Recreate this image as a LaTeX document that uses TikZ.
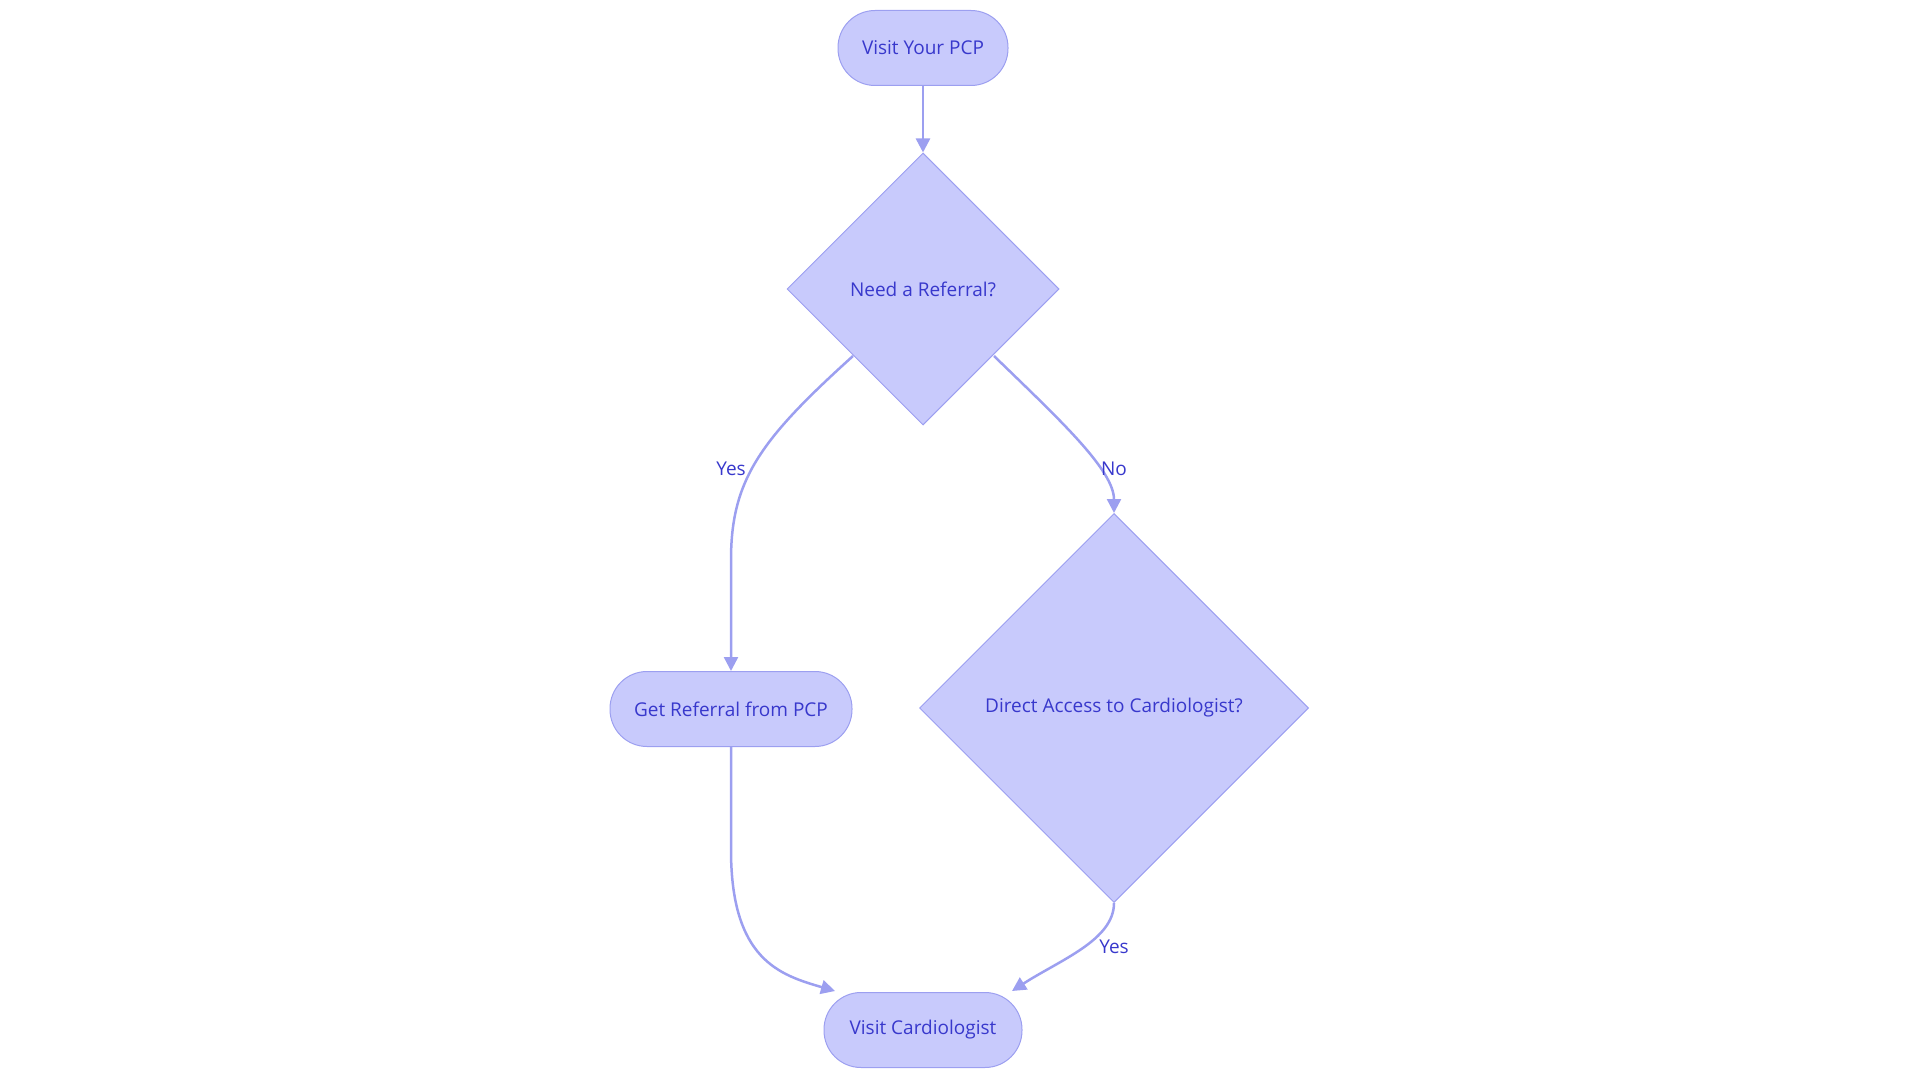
\documentclass[tikz,border=0pt]{standalone}
\usepackage{fontspec}
\setmainfont{Open Sans}
\usetikzlibrary{shapes.geometric,arrows.meta}
\definecolor{nfill}{HTML}{C8CAFC}
\definecolor{nline}{HTML}{9C9FF0}
\definecolor{ntext}{HTML}{3838CC}
\begin{document}
\begin{tikzpicture}[x=1pt,y=-1pt,
  every node/.style={font=\fontsize{19}{22}\selectfont, text=ntext},
  term/.style={draw=nline, fill=nfill, rounded corners=37pt, minimum height=75pt, inner sep=0pt, line width=1pt},
  dec/.style={draw=nline, fill=nfill, diamond, aspect=1, inner sep=0pt, line width=1pt},
  conn/.style={draw=nline, line width=2.5pt, -{Triangle[length=14pt,width=14pt]}},
  lab/.style={inner sep=1pt}]
\useasboundingbox (0,0) rectangle (1920,1083);
\node[term, minimum width=170pt] (pcp) at (923,48) {Visit Your PCP};
\node[dec, minimum width=272pt, minimum height=272pt] (d1) at (923,289) {Need a Referral?};
\node[term, minimum width=242pt] (gr) at (731,709) {Get Referral from PCP};
\node[dec, minimum width=389pt, minimum height=389pt] (d2) at (1114,708) {Direct Access to Cardiologist?};
\node[term, minimum width=198pt] (vc) at (923,1030) {Visit Cardiologist};
\coordinate (d1l) at (853,356);
\coordinate (d1r) at (994,356);
\coordinate (vcl) at (835,991);
\coordinate (vcr) at (1012,991);
\draw[conn] (pcp.south) -- (d1.north);
\draw[conn] (d1l) .. controls (760,440) and (731,480) .. (731,560) -- (gr.north);
\draw[conn] (d1r) .. controls (1060,420) and (1114,470) .. (d2.north);
\draw[conn] (gr.south) -- (731,850) .. controls (731,960) and (780,975) .. (vcl);
\draw[conn] (d2.south) .. controls (1114,940) and (1060,960) .. (vcr);
\node[lab] at (731,469) {Yes};
\node[lab] at (1114,469) {No};
\node[lab] at (1114,947) {Yes};
\end{tikzpicture}
\end{document}
